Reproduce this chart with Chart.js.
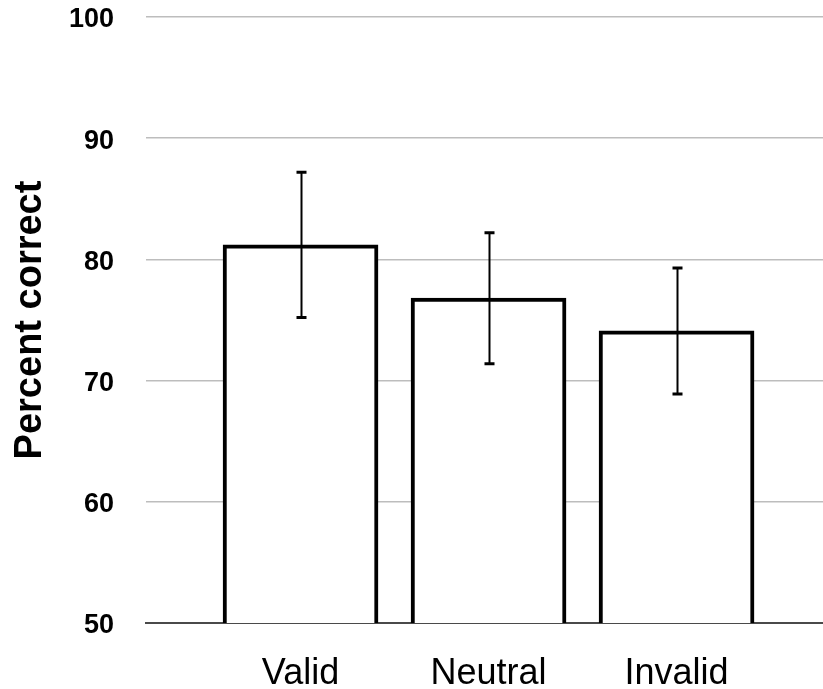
<!DOCTYPE html>
<html>
<head>
<meta charset="utf-8">
<script src="https://cdn.jsdelivr.net/npm/chart.js@4.4.1/dist/chart.umd.min.js"></script>
<style>
  html, body { margin: 0; padding: 0; background: #fff; }
  canvas { display: block; }
</style>
</head>
<body>
<canvas id="chart" width="823" height="689"></canvas>
<script>
var categories = ['Valid', 'Neutral', 'Invalid'];
var percentCorrect = [81.2, 76.8, 74.1];
var errorHalf = [6.0, 5.4, 5.2];
var yTicks = [50, 60, 70, 80, 90, 100];

// vertical error bars with short caps, drawn over the bars
var errorBars = {
    id: 'errorBars',
    afterDatasetsDraw(chart) {
        var ctx = chart.ctx;
        var xs = chart.scales.x, ys = chart.scales.y;
        ctx.save();
        ctx.strokeStyle = '#000';
        percentCorrect.forEach(function (v, i) {
            var x = Math.round(xs.getPixelForValue(i + 1)) + 0.5;
            var top = ys.getPixelForValue(v + errorHalf[i]);
            var bot = ys.getPixelForValue(v - errorHalf[i]);
            ctx.lineWidth = 2;
            ctx.beginPath();
            ctx.moveTo(x, top);
            ctx.lineTo(x, bot);
            ctx.stroke();
            ctx.lineWidth = 3;
            ctx.beginPath();
            ctx.moveTo(x - 5, top);
            ctx.lineTo(x + 5, top);
            ctx.moveTo(x - 5, bot);
            ctx.lineTo(x + 5, bot);
            ctx.stroke();
        });
        ctx.restore();
    }
};

var ctx = document.getElementById('chart').getContext('2d');
new Chart(ctx, {
    type: 'bar',
    data: {
        datasets: [{
            data: percentCorrect.map(function (v, i) { return { x: i + 1, y: v }; }),
            backgroundColor: '#fff',
            borderColor: '#000',
            borderWidth: 4,
            borderSkipped: 'start',
            barThickness: 155
        }]
    },
    options: {
        responsive: false,
        animation: false,
        layout: { padding: { top: 17, right: 0, bottom: 0, left: 0 } },
        plugins: {
            legend: { display: false },
            tooltip: { enabled: false }
        },
        scales: {
            x: {
                type: 'linear',
                min: 0.178,
                max: 3.779,
                offset: false,
                z: 1,
                grid: { display: false, drawTicks: false },
                border: { display: true, color: '#4a4a4a', width: 2 },
                afterBuildTicks: function (scale) {
                    scale.ticks = categories.map(function (c, i) { return { value: i + 1 }; });
                },
                afterFit: function (scale) {
                    scale.height = 66;
                    scale.paddingLeft = 0;
                    scale.paddingRight = 0;
                },
                ticks: {
                    padding: 29,
                    color: '#000',
                    font: { family: 'Liberation Sans', size: 36 },
                    callback: function (value) { return categories[value - 1]; }
                }
            },
            y: {
                min: 50,
                max: 100,
                afterBuildTicks: function (scale) {
                    scale.ticks = yTicks.map(function (t) { return { value: t }; });
                },
                afterFit: function (scale) {
                    scale.width = 146;
                    scale.paddingTop = 0;
                    scale.paddingBottom = 0;
                },
                grid: {
                    drawTicks: false,
                    color: '#bdbdbd',
                    lineWidth: 1.5
                },
                border: { display: false },
                ticks: {
                    padding: 32,
                    labelOffset: 3,
                    color: '#000',
                    font: { family: 'Liberation Sans', size: 27, weight: 'bold' }
                },
                title: {
                    display: true,
                    text: 'Percent correct',
                    color: '#000',
                    padding: { top: 8, bottom: 0 },
                    font: { family: 'Liberation Sans', size: 38, weight: 'bold' }
                }
            }
        }
    },
    plugins: [errorBars]
});
</script>
</body>
</html>
